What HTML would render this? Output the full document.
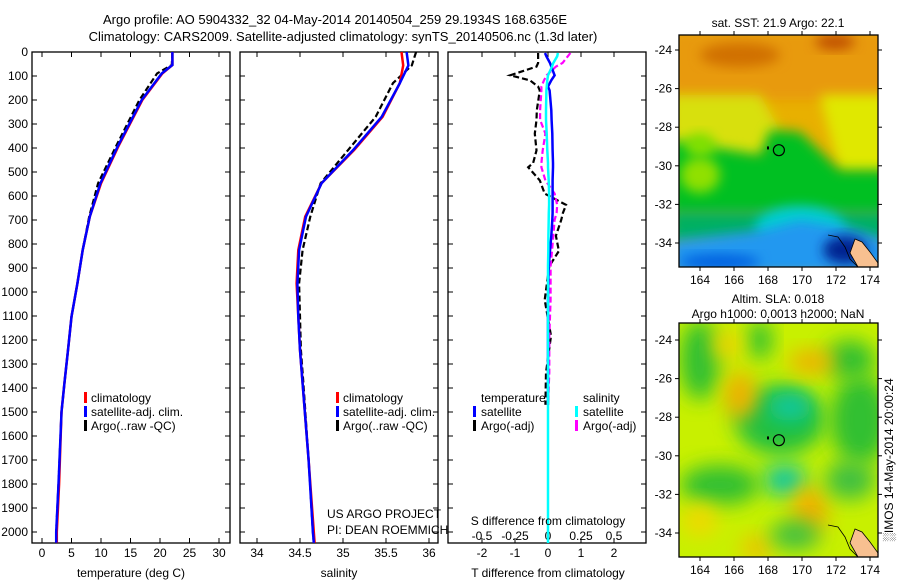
<!DOCTYPE html>
<html><head><meta charset="utf-8"><style>
body{margin:0;background:#fff;}
svg{display:block;font-family:"Liberation Sans",sans-serif;}
</style></head><body>
<svg id="fig" width="900" height="580" viewBox="0 0 900 580" xmlns="http://www.w3.org/2000/svg">
<defs>
<filter id="blur6" x="-30%" y="-30%" width="160%" height="160%"><feGaussianBlur stdDeviation="6"/></filter>
<filter id="blur10" x="-50%" y="-50%" width="200%" height="200%"><feGaussianBlur stdDeviation="10"/></filter>
<clipPath id="clipM1"><rect x="679" y="35" width="199" height="232"/></clipPath>
<clipPath id="clipM2"><rect x="679" y="323" width="199" height="234"/></clipPath>
</defs>
<text x="335" y="24" font-size="13" text-anchor="middle">Argo profile: AO 5904332_32 04-May-2014 20140504_259 29.1934S 168.6356E</text>
<text x="343" y="41" font-size="13" text-anchor="middle">Climatology: CARS2009. Satellite-adjusted climatology: synTS_20140506.nc (1.3d later)</text>
<g id="panels"></g>
<g id="maps"></g>
</svg>
<script>
// ---- data ----
const depthT = [0, 54, 89, 200, 395, 547, 686, 825, 964, 1103, 1242, 1381, 1500, 1800, 2000, 2045];
const tempClim = [22.1, 22.1, 20.4, 17.0, 12.9, 10.0, 8.1, 6.9, 6.0, 5.0, 4.4, 3.8, 3.3, 2.9, 2.5, 2.5];
const tempSat = [22.1, 22.1, 20.3, 16.9, 12.8, 9.9, 8.1, 6.9, 6.0, 5.0, 4.4, 3.8, 3.3, 2.8, 2.4, 2.4];
const tempArgo = [22.1, 22.0, 19.5, 16.5, 12.5, 9.5, 8.0, 6.9, 6.0, 5.0, 4.4, 3.8, 3.3, 2.8, 2.4, 2.4];
const depthS = [0, 56, 130, 270, 408, 547, 686, 825, 964, 1103, 1242, 1381, 1700, 2000, 2045];
const salClim = [35.68, 35.70, 35.66, 35.46, 35.13, 34.75, 34.56, 34.48, 34.46, 34.48, 34.50, 34.53, 34.60, 34.66, 34.67];
const salSat = [35.74, 35.76, 35.66, 35.45, 35.12, 34.75, 34.57, 34.49, 34.47, 34.48, 34.50, 34.53, 34.60, 34.65, 34.66];
const salArgo = [35.85, 35.80, 35.58, 35.38, 35.06, 34.74, 34.62, 34.53, 34.49, 34.50, 34.51, 34.54, 34.60, 34.65, 34.66];
const depthD = [4, 18, 46, 61, 97, 118, 144, 160, 243, 283, 340, 410, 463, 480, 535, 590, 637, 671, 700, 766, 829, 892, 1033, 1183, 1336, 1470];
const tDiffSat = [-0.09, -0.05, 0.06, 0.1, 0.2, 0.1, 0.0, 0.05, 0.1, 0.11, 0.13, 0.14, 0.15, 0.15, 0.14, 0.14, 0.14, 0.14, 0.13, 0.1, 0.06, 0.02, 0.0, 0.0, 0.0, 0.0];
const tDiffArgo = [-0.3, -0.3, -0.3, -0.35, -1.15, -0.55, -0.3, -0.25, -0.34, -0.35, -0.4, -0.35, -0.45, -0.6, -0.25, -0.1, 0.55, 0.45, 0.4, 0.24, 0.33, 0.04, -0.1, 0.09, -0.06, -0.08];
const sDiffSat = [0.075, 0.07, 0.04, 0.03, 0.0, -0.005, -0.01, -0.012, -0.015, -0.015, -0.01, -0.005, 0.0, 0.0, 0.005, 0.008, 0.008, 0.006, 0.005, 0.003, 0.002, 0.0, 0.0, 0.0, 0.0, 0.0];
const sDiffArgo = [0.17, 0.15, 0.11, 0.06, -0.01, -0.03, -0.05, -0.05, -0.06, -0.06, -0.02, -0.04, -0.05, -0.05, -0.02, 0.05, 0.07, 0.065, 0.05, 0.04, 0.03, 0.02, 0.02, 0.01, 0.01, 0.0];
const depthTicks = [0,100,200,300,400,500,600,700,800,900,1000,1100,1200,1300,1400,1500,1600,1700,1800,1900,2000];
const tempTicks = [0,5,10,15,20,25,30];
const salTicks = [34,34.5,35,35.5,36];
const tDiffTicks = [-2,-1,0,1,2];
const sDiffTicks = [-0.5,-0.25,0,0.25,0.5];
const lonTicks = [164,166,168,170,172,174];
const latTicks = [-24,-26,-28,-30,-32,-34];

// ---- helpers ----
const NS = "http://www.w3.org/2000/svg";
function mk(tag, attrs, parent, txt){
  const e = document.createElementNS(NS, tag);
  for (const k in attrs) e.setAttribute(k, attrs[k]);
  if (txt !== undefined) e.textContent = txt;
  parent.appendChild(e);
  return e;
}
const yTop = 52, yBot = 543;
const yD = d => yTop + d * 0.24;
const xT = v => 42 + v * 5.9;
const xS = v => 257 + (v - 34) * 86;
const xTd = v => 548 + v * 33;
const xSd = v => 548 + v * 132;
const G = document.getElementById('panels');

function panel(x0, name){
  const r = mk('rect', {x:x0, y:yTop, width:198, height:yBot-yTop, fill:'none', stroke:'#000', 'stroke-width':1.3}, G);
  
  
  depthTicks.forEach(d => {
    mk('line', {x1:x0, x2:x0+5, y1:yD(d), y2:yD(d), stroke:'#000'}, G);
    mk('line', {x1:x0+198, x2:x0+193, y1:yD(d), y2:yD(d), stroke:'#000'}, G);
  });
}
function xticks(vals, sc, labY, name){
  vals.forEach(v => {
    const x = sc(v);
    mk('line', {x1:x, x2:x, y1:yTop, y2:yTop+5, stroke:'#000'}, G);
    mk('line', {x1:x, x2:x, y1:yBot, y2:yBot-5, stroke:'#000'}, G);
    const t = mk('text', {x:x, y:labY, 'font-size':12, 'text-anchor':'middle'}, G, String(v));
    
    
  });
}
function line(xs, ds, sx, color, w, dash, name){
  const pts = xs.map((v,i) => sx(v).toFixed(1)+','+yD(ds[i]).toFixed(1)).join(' ');
  const p = mk('polyline', {points:pts, fill:'none', stroke:color, 'stroke-width':w}, G);
  if (dash) p.setAttribute('stroke-dasharray', dash);
  
  
}
function label(x, y, s, name, anchor){
  const t = mk('text', {x:x, y:y, 'font-size':12, 'text-anchor':anchor||'start'}, G, s);
  
  
}
function legBar(x, y, color, name){
  const r = mk('rect', {x:x, y:y-10, width:3, height:11, fill:color}, G);
  
  
}

// panel 1: temperature
panel(32, 'temperature-panel');
depthTicks.forEach(d => label(28, yD(d)+4, String(d), 'depth-tick-label', 'end'));
xticks(tempTicks, xT, 557, 'temperature-tick-label');
line(tempArgo, depthT, xT, '#000', 2.2, '6,3', 'argo-temperature-line');
line(tempClim, depthT, xT, '#ff0000', 2.5, null, 'climatology-temperature-line');
line(tempSat, depthT, xT, '#0000ff', 2.5, null, 'satellite-temperature-line');
label(131, 577, 'temperature (deg C)', 'temperature-axis-title', 'middle');
legBar(84, 402, '#ff0000', 'legend-climatology-swatch'); label(91, 402, 'climatology', 'legend-climatology');
legBar(84, 416, '#0000ff', 'legend-satellite-swatch'); label(91, 416, 'satellite-adj. clim.', 'legend-satellite');
legBar(84, 430, '#000', 'legend-argo-swatch'); label(91, 430, 'Argo(..raw -QC)', 'legend-argo');

// panel 2: salinity
panel(240, 'salinity-panel');
xticks(salTicks, xS, 557, 'salinity-tick-label');
line(salArgo, depthS, xS, '#000', 2.2, '6,3', 'argo-salinity-line');
line(salClim, depthS, xS, '#ff0000', 2.5, null, 'climatology-salinity-line');
line(salSat, depthS, xS, '#0000ff', 2.5, null, 'satellite-salinity-line');
label(339, 577, 'salinity', 'salinity-axis-title', 'middle');
legBar(336, 402, '#ff0000', 'legend2-climatology-swatch'); label(343, 402, 'climatology', 'legend2-climatology');
legBar(336, 416, '#0000ff', 'legend2-satellite-swatch'); label(343, 416, 'satellite-adj. clim.', 'legend2-satellite');
legBar(336, 430, '#000', 'legend2-argo-swatch'); label(343, 430, 'Argo(..raw -QC)', 'legend2-argo');
label(327, 518, 'US ARGO PROJECT', 'project-label');
label(327, 534, 'PI: DEAN ROEMMICH', 'pi-label');

// panel 3: differences
panel(448, 'difference-panel');
xticks(tDiffTicks, xTd, 557, 't-diff-tick-label');
sDiffTicks.forEach(v => label(xSd(v), 540, String(v), 's-diff-tick-label', 'middle'));
line(tDiffArgo, depthD, xTd, '#000', 2.2, '6,3', 'argo-t-diff-line');
line(sDiffArgo, depthD, xSd, '#ff00ff', 2.2, '6,3', 'argo-s-diff-line');
line(tDiffSat, depthD, xTd, '#0000ff', 2.5, null, 'satellite-t-diff-line');
line(sDiffSat, depthD, xSd, '#00ffff', 2.5, null, 'satellite-s-diff-line');
(function(){ const p = mk('line', {x1:xSd(0), x2:xSd(0), y1:yD(1470), y2:yBot, stroke:'#00ffff', 'stroke-width':2.5}, G);
  })();
label(548, 525, 'S difference from climatology', 's-diff-axis-title', 'middle');
label(548, 577, 'T difference from climatology', 't-diff-axis-title', 'middle');
label(481, 402, 'temperature', 'legend3-temperature-header');
label(583, 402, 'salinity', 'legend3-salinity-header');
legBar(473, 416, '#0000ff', 'legend3-t-sat-swatch'); label(481, 416, 'satellite', 'legend3-t-satellite');
legBar(473, 430, '#000', 'legend3-t-argo-swatch'); label(481, 430, 'Argo(-adj)', 'legend3-t-argo');
legBar(575, 416, '#00ffff', 'legend3-s-sat-swatch'); label(583, 416, 'satellite', 'legend3-s-satellite');
legBar(575, 430, '#ff00ff', 'legend3-s-argo-swatch'); label(583, 430, 'Argo(-adj)', 'legend3-s-argo');

// ---- maps ----
const M = document.getElementById('maps');
const xLon = lon => 700 + (lon - 164) * 17;
function mapFrame(y0, h, latY0, name, clip, shapes, base){
  const g = mk('g', {'clip-path':'url(#'+clip+')'}, M);
  
  
  mk('rect', {x:679, y:y0, width:199, height:h, fill:base}, g);
  shapes.forEach(s => {
    if (s[0]==='e') mk('ellipse', {cx:s[1], cy:s[2], rx:s[3], ry:s[4], fill:s[5], filter:'url(#blur'+(s[6]||10)+')'}, g);
    else mk('path', {d:s[1], fill:s[2], filter:'url(#blur6)'}, g);
  });
  mk('path', {d:'M855 '+(y0+h-28)+' L862 '+(y0+h-25)+' L870 '+(y0+h-15)+' L878 '+(y0+h-4)+' L878 '+(y0+h)+' L858 '+(y0+h)+' L850 '+(y0+h-14)+' Z', fill:'#f8c090', stroke:'#000', 'stroke-width':0.8}, g);
  mk('path', {d:'M828 '+(y0+h-32)+' L838 '+(y0+h-30)+' L845 '+(y0+h-20)+' L850 '+(y0+h-8)+' L858 '+(y0+h), fill:'none', stroke:'#000', 'stroke-width':0.8}, g);
  mk('rect', {x:679, y:y0, width:199, height:h, fill:'none', stroke:'#000', 'stroke-width':1.3}, M);
  const yLat = lat => latY0 + (-24 - lat) * 19.3;
  lonTicks.forEach(l => {
    mk('line', {x1:xLon(l), x2:xLon(l), y1:y0, y2:y0-4, stroke:'#000'}, M);
    mk('line', {x1:xLon(l), x2:xLon(l), y1:y0+h, y2:y0+h+4, stroke:'#000'}, M);
    const t = mk('text', {x:xLon(l), y:y0+h+17, 'font-size':12, 'text-anchor':'middle'}, M, String(l));
    
    
  });
  latTicks.forEach(l => {
    const y = yLat(l);
    mk('line', {x1:679, x2:675, y1:y, y2:y, stroke:'#000'}, M);
    mk('line', {x1:878, x2:882, y1:y, y2:y, stroke:'#000'}, M);
    const t = mk('text', {x:672, y:y+4, 'font-size':12, 'text-anchor':'end'}, M, String(l));
    
    
  });
  const c = mk('circle', {cx:xLon(168.64), cy:yLat(-29.19), r:5.5, fill:'none', stroke:'#000', 'stroke-width':1.2}, M);
  
  
  mk('rect', {x:xLon(168)-1, y:yLat(-29.1)-2, width:2, height:3, fill:'#000'}, M);
}
mapFrame(35, 232, 50, 'sst-map', 'clipM1', [
  ['p','M670 30 L890 30 L890 100 L670 100 Z','#e89a10'],
  ['p','M670 95 L760 95 L780 130 L760 160 L670 160 Z','#d8e010'],
  ['p','M820 95 L890 95 L890 175 L840 175 Z','#e0e800'],
  ['p','M670 140 L760 155 L770 130 L800 132 L840 170 L890 170 L890 215 L670 215 Z','#00c020'],
  ['p','M670 210 L890 210 L890 245 L670 245 Z','#00b060'],
  ['e',800,228,45,22,'#00d0d0',6],
  ['p','M670 240 L760 230 L800 220 L850 228 L890 240 L890 275 L670 275 Z','#2098f0'],
  ['e',720,262,40,8,'#0060e0',6],
  ['e',845,250,22,14,'#002090',6],
  ['e',740,55,40,12,'#d07000',6],
  ['e',835,42,20,8,'#c05000',6],
  ['e',700,145,15,12,'#80e000',6],
  ['e',700,175,20,18,'#90e000',6]
], '#e8b000');
mapFrame(323, 234, 340, 'sla-map', 'clipM2', [
  ['e',700,360,20,40,'#30c030'],
  ['e',780,420,45,35,'#20c040'],
  ['e',790,407,22,14,'#10c8a0'],
  ['e',785,480,22,16,'#10c8a0'],
  ['e',720,485,40,20,'#30c030'],
  ['e',860,420,30,45,'#30c030'],
  ['e',850,360,25,20,'#30c030'],
  ['e',760,340,12,20,'#30c030'],
  ['e',740,395,16,24,'#f0b000'],
  ['e',727,345,14,14,'#f0d000'],
  ['e',812,362,24,12,'#f0b000'],
  ['e',810,510,18,24,'#f0b000'],
  ['e',757,548,16,12,'#f0c000'],
  ['e',700,520,18,16,'#f0d800'],
  ['e',795,535,25,15,'#40c040'],
  ['e',850,480,25,20,'#40c040']
], '#c8f000');
function mt(x,y,s,name,tr){
  const t = mk('text', {x:x, y:y, 'font-size':12, 'text-anchor':'middle'}, M, s);
  if (tr) t.setAttribute('transform', tr);
  
  
}
mt(778, 27, 'sat. SST: 21.9 Argo: 22.1', 'sst-map-title');
mt(778, 303, 'Altim. SLA: 0.018', 'sla-map-title-1');
mt(778, 318, 'Argo h1000: 0.0013 h2000: NaN', 'sla-map-title-2');
mt(893, 460, '\u2591IMOS 14-May-2014 20:00:24', 'imos-timestamp', 'rotate(-90 893 460)');
</script>
</body></html>
